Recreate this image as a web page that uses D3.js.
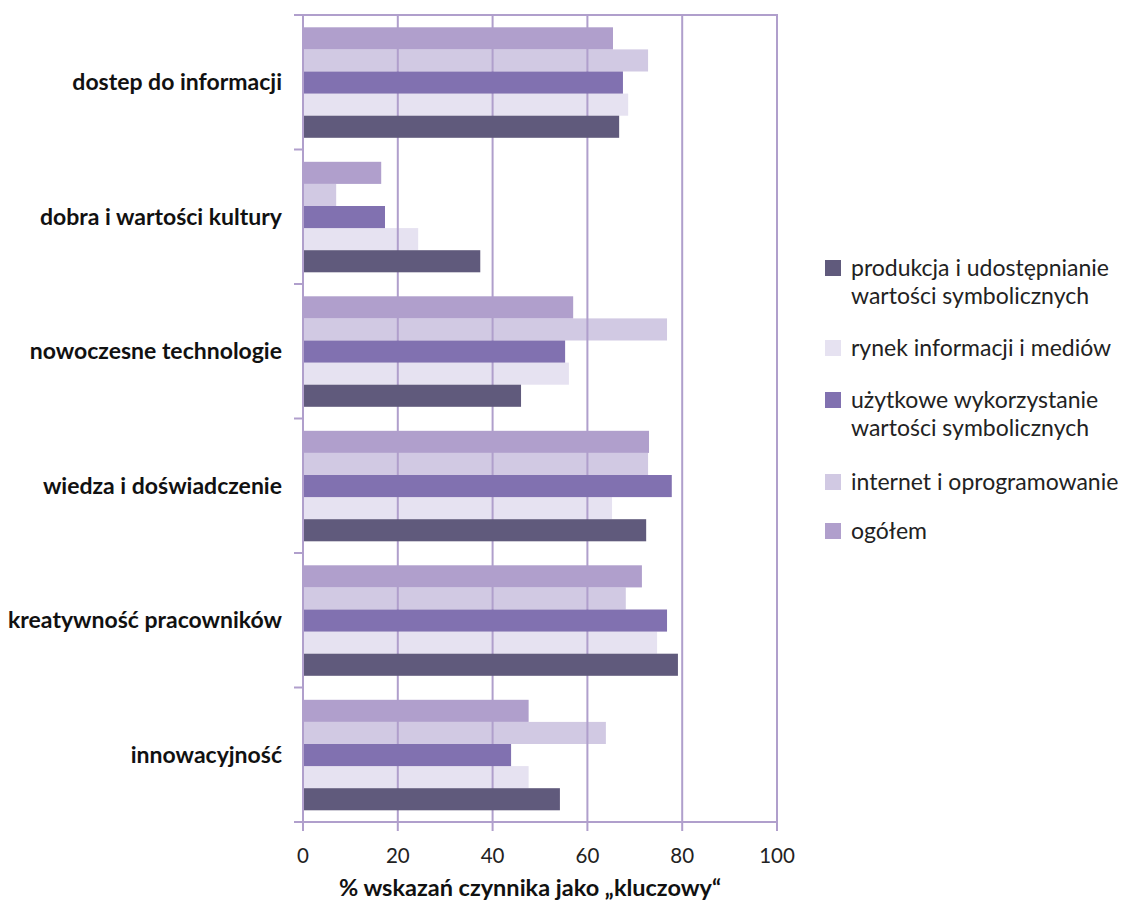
<!DOCTYPE html>
<html>
<head>
<meta charset="utf-8">
<script src="https://cdn.jsdelivr.net/npm/d3@7"></script>
<style>
  html, body { margin: 0; padding: 0; background: #fff; }
  svg { display: block; }
  text { font-family: Lato, "Open Sans", sans-serif; }
</style>
</head>
<body>
<svg id="chart" width="1127" height="903"></svg>
<script>
// Categories (top to bottom)
const categories = [
  "dostep do informacji",
  "dobra i wartości kultury",
  "nowoczesne technologie",
  "wiedza i doświadczenie",
  "kreatywność pracowników",
  "innowacyjność"
];

// Series in legend order
const seriesNames = [
  "produkcja i udostępnianie wartości symbolicznych",
  "rynek informacji i mediów",
  "użytkowe wykorzystanie wartości symbolicznych",
  "internet i oprogramowanie",
  "ogółem"
];
const legendLines = [
  ["produkcja i udostępnianie", "wartości symbolicznych"],
  ["rynek informacji i mediów"],
  ["użytkowe wykorzystanie", "wartości symbolicznych"],
  ["internet i oprogramowanie"],
  ["ogółem"]
];

// Values per series, aligned with categories
const produkcja = [66.7, 37.4, 46.0, 72.4, 79.1, 54.2];
const rynek     = [68.6, 24.3, 56.1, 65.2, 74.7, 47.6];
const uzytkowe  = [67.5, 17.3, 55.3, 77.8, 76.8, 43.9];
const internet  = [72.8, 7.0, 76.8, 72.8, 68.1, 63.9];
const ogolem    = [65.4, 16.5, 57.0, 73.0, 71.5, 47.6];
const seriesValues = [produkcja, rynek, uzytkowe, internet, ogolem];

const colors = ["#605a7c", "#e6e2f1", "#8171b0", "#d1c9e3", "#b09fcc"];
const xTicks = [0, 20, 40, 60, 80, 100];
const xTitle = "% wskazań czynnika jako „kluczowy“";

const axisColor = "#b09fcc";
const svg = d3.select("#chart");

const plot = { left: 303, right: 777, top: 15, bottom: 822 };

const x = d3.scaleLinear().domain([0, 100]).range([plot.left, plot.right]);
const y = d3.scaleBand().domain(categories).range([plot.top, plot.bottom]).padding(0);

// bars stacked top to bottom: ogółem first, produkcja last
const drawOrder = [4, 3, 2, 1, 0];
const inner = d3.scaleBand()
  .domain(drawOrder)
  .range([12.3, y.bandwidth() - 11.7])
  .padding(0);

const rows = [];
categories.forEach((c, ci) => {
  seriesValues.forEach((vals, si) => {
    rows.push({ cat: c, s: si, v: vals[ci] });
  });
});

const light = new Set([1, 3]);

// light bars, then gridlines, then solid bars
const gBarsLight = svg.append("g");
const gGrid = svg.append("g");
const gBarsDark = svg.append("g");

gBarsLight.selectAll("rect")
  .data(rows.filter(d => light.has(d.s)))
  .join("rect")
  .attr("x", x(0))
  .attr("y", d => y(d.cat) + inner(d.s))
  .attr("width", d => x(d.v) - x(0))
  .attr("height", inner.bandwidth())
  .attr("fill", d => colors[d.s]);

// vertical grid lines (extend below plot as tick marks)
gGrid.selectAll("line.grid")
  .data(xTicks)
  .join("line")
  .attr("class", "grid")
  .attr("x1", d => x(d)).attr("x2", d => x(d))
  .attr("y1", plot.top).attr("y2", plot.bottom + 9)
  .attr("stroke", axisColor)
  .attr("stroke-width", 2);

gBarsDark.selectAll("rect")
  .data(rows.filter(d => !light.has(d.s)))
  .join("rect")
  .attr("x", x(0) + 1)
  .attr("y", d => y(d.cat) + inner(d.s))
  .attr("width", d => x(d.v) - x(0) - 1)
  .attr("height", inner.bandwidth())
  .attr("fill", d => colors[d.s]);

// frame: top and bottom horizontal lines, left axis line
const gAxes = svg.append("g");
[plot.top, plot.bottom].forEach(yy => {
  gAxes.append("line")
    .attr("x1", plot.left - 9).attr("x2", plot.right + 1)
    .attr("y1", yy).attr("y2", yy)
    .attr("stroke", axisColor).attr("stroke-width", 2);
});
gAxes.append("line")
  .attr("x1", plot.left).attr("x2", plot.left)
  .attr("y1", plot.top).attr("y2", plot.bottom + 9)
  .attr("stroke", axisColor).attr("stroke-width", 2);

// category boundary ticks on y axis
const boundaries = categories.map(c => y(c)).concat([plot.bottom]);
gAxes.selectAll("line.ytick")
  .data(boundaries)
  .join("line")
  .attr("class", "ytick")
  .attr("x1", plot.left - 9).attr("x2", plot.left)
  .attr("y1", d => d).attr("y2", d => d)
  .attr("stroke", axisColor).attr("stroke-width", 2);

// category labels
svg.append("g").selectAll("text")
  .data(categories)
  .join("text")
  .attr("x", 282)
  .attr("y", d => y(d) + y.bandwidth() / 2)
  .attr("dy", "0.35em")
  .attr("text-anchor", "end")
  .attr("font-size", 23)
  .attr("font-weight", 700)
  .attr("fill", "#111")
  .text(d => d);

// x tick labels
svg.append("g").selectAll("text")
  .data(xTicks)
  .join("text")
  .attr("x", d => x(d))
  .attr("y", 863)
  .attr("text-anchor", "middle")
  .attr("font-size", 20.5)
  .attr("fill", "#222")
  .text(d => d);

// x axis title
svg.append("text")
  .attr("x", 530)
  .attr("y", 896)
  .attr("text-anchor", "middle")
  .attr("font-size", 23.5)
  .attr("font-weight", 700)
  .attr("fill", "#111")
  .text(xTitle);

// legend
const legendY = [268, 348, 400, 482, 531];
const legend = svg.append("g");
seriesNames.forEach((name, i) => {
  const g = legend.append("g").attr("transform", `translate(825,${legendY[i]})`);
  g.append("rect")
    .attr("x", 0).attr("y", -8)
    .attr("width", 16).attr("height", 16)
    .attr("fill", colors[i]);
  legendLines[i].forEach((line, li) => {
    g.append("text")
      .attr("x", 26)
      .attr("y", li * 28)
      .attr("dy", "0.35em")
      .attr("font-size", 23)
      .attr("fill", "#222")
      .text(line);
  });
});
</script>
</body>
</html>
